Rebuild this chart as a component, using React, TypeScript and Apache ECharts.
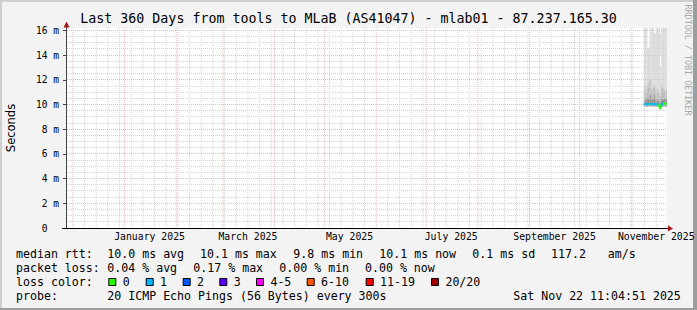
import React, { useEffect, useRef } from 'react';
import * as echarts from 'echarts';

// ---------- time frame ----------
const DAY = 24 * 3600 * 1000;
const END = Date.UTC(2025, 10, 22, 11, 4, 51);
const START = END - 360 * DAY;

const parseT = (s: string) => {
  const [d, t = '00:00'] = s.split(' ');
  const [y, m, dd] = d.split('-').map(Number);
  const [hh, mm] = t.split(':').map(Number);
  return Date.UTC(y, m - 1, dd, hh, mm);
};

// ---------- axis labels / ticks ----------
const MONTH_LABELS = ['January 2025', 'March 2025', 'May 2025', 'July 2025', 'September 2025', 'November 2025'];
const MONTH_LABEL_AT = ['2025-01-16 00:00', '2025-03-16 00:00', '2025-05-16 00:00', '2025-07-16 00:00', '2025-09-16 00:00', '2025-11-16 00:00'];
const MONTH_STARTS = ['2024-12-01', '2025-01-01', '2025-02-01', '2025-03-01', '2025-04-01', '2025-05-01', '2025-06-01', '2025-07-01', '2025-08-01', '2025-09-01', '2025-10-01', '2025-11-01'];
const FIRST_SUNDAY = '2024-12-01';
const Y_MAJOR = [0, 2, 4, 6, 8, 10, 12, 14, 16];
const Y_MAX = 16.2;

// ---------- data (ms), 12 h samples ----------
const SAMPLE_TIMES = [
  '2025-11-08 12:00', '2025-11-09 00:00', '2025-11-09 12:00', '2025-11-10 00:00', '2025-11-10 12:00',
  '2025-11-11 00:00', '2025-11-11 12:00', '2025-11-12 00:00', '2025-11-12 12:00', '2025-11-13 00:00',
  '2025-11-13 12:00', '2025-11-14 00:00', '2025-11-14 12:00', '2025-11-15 00:00', '2025-11-15 12:00',
  '2025-11-16 00:00', '2025-11-16 12:00', '2025-11-17 00:00', '2025-11-17 12:00', '2025-11-18 00:00',
  '2025-11-18 12:00', '2025-11-19 00:00', '2025-11-19 12:00', '2025-11-20 00:00', '2025-11-20 12:00',
  '2025-11-21 00:00', '2025-11-21 12:00', '2025-11-22 00:00', '2025-11-22 11:04',
];
const PING_MIN = [9.85, 9.84, 9.85, 9.83, 9.84, 9.86, 9.85, 9.84, 9.83, 9.85, 9.84, 9.83, 9.85, 9.84, 9.82, 9.83, 9.84, 9.8, 9.7, 9.55, 9.75, 9.82, 9.84, 9.83, 9.85, 9.84, 9.82, 9.83];
const PING_MEDIAN = [10.03, 10.02, 10.04, 10.03, 10.02, 10.05, 10.03, 10.02, 10.04, 10.03, 10.02, 10.03, 10.04, 10.02, 10.01, 10.03, 10.02, 9.98, 9.88, 9.72, 9.92, 10.06, 10.05, 10.04, 10.08, 10.06, 10.07, 10.05];
const PING_P75 = [10.4, 10.5, 10.35, 10.6, 10.45, 10.5, 10.4, 10.7, 10.9, 10.5, 10.45, 10.4, 10.6, 10.8, 10.5, 10.4, 10.45, 10.3, 10.2, 10.1, 10.3, 10.6, 10.5, 10.4, 10.5, 10.45, 10.4, 10.5];
const PING_P90 = [11.2, 11.5, 11.0, 11.6, 11.3, 11.8, 11.4, 12.2, 12.0, 11.3, 11.1, 11.4, 11.6, 11.5, 11.2, 11.0, 11.3, 11.0, 10.8, 10.6, 11.0, 11.7, 11.4, 11.2, 11.3, 11.2, 11.0, 11.3];
const PING_UPPER = [16.6, 16.6, 16.6, 16.6, 14.6, 14.6, 14.6, 16.6, 16.6, 16.6, 16.6, 16.6, 15.8, 15.8, 15.8, 16.6, 16.6, 16.6, 16.6, 13.1, 13.1, 16.6, 16.6, 16.6, 16.6, 16.6, 16.6, 16.6];
const PING_GAP_TOP = [16.6, 16.6, 16.6, 16.6, 14.6, 14.6, 14.6, 16.6, 16.6, 16.6, 16.6, 16.6, 15.8, 15.8, 15.8, 16.6, 16.6, 16.6, 16.6, 14.0, 14.0, 16.6, 16.6, 16.6, 16.6, 16.6, 16.6, 16.6];
const PING_MAX = [16.6, 16.6, 16.6, 16.6, 14.6, 14.6, 14.6, 16.6, 16.6, 16.6, 16.6, 16.6, 15.8, 15.8, 15.8, 16.6, 16.6, 16.6, 16.6, 15.75, 15.75, 16.6, 16.6, 16.6, 16.6, 16.6, 16.6, 16.6];
// loss class index per sample (0 => "0", 1 => "1", ...)
const LOSS_CLASS = [1, 1, 1, 1, 1, 1, 0, 1, 1, 1, 1, 1, 1, 1, 1, 1, 1, 1, 0, 0, 0, 1, 1, 0, 0, 0, 0, 0];

const LOSS_LABELS = ['0', '1', '2', '3', '4-5', '6-10', '11-19', '20/20'];
const LOSS_COLORS = ['#26ff00', '#00b8ff', '#0059ff', '#5e00ff', '#ff00ff', '#ff5500', '#ff0000', '#a10000'];

// ---------- legend texts ----------
const TITLE = 'Last 360 Days from tools to MLaB (AS41047) - mlab01 - 87.237.165.30';
const RTT_STATS = ['median rtt:', '10.0 ms avg', '10.1 ms max', '9.8 ms min', '10.1 ms now', '0.1 ms sd', '117.2', 'am/s'];
const LOSS_STATS = ['packet loss:', '0.04 % avg', '0.17 % max', '0.00 % min', '0.00 % now'];
const PROBE_TEXTS = ['probe:', '20 ICMP Echo Pings (56 Bytes) every 300s', 'Sat Nov 22 11:04:51 2025'];

// ---------- layout / style ----------
const MONO = "'DejaVu Sans Mono', monospace";
const RTT_X = [16, 107.3, 200, 293.3, 379.3, 472.3, 551, 607.7];
const LOSS_X = [16, 107.3, 193.3, 279.3, 365];
const BOX_X = [108.3, 145.7, 182.7, 219.3, 256, 306.7, 365.7, 431];
const PROBE_X = [16, 107.3, 513.3];
const ROW_Y = [254, 268, 282, 295.7];
// band fills: min->median, median->p75, p75->p90, p90->upper, (gap), gapTop->max
const SMOKE_COLORS = ['#ababab', '#929292', '#bebebe', '#dcdcdc', null, '#dcdcdc'];
const GRID_COLORS = ['#d4d4d4', '#efb6b6'];

function buildOption() {
  const times = SAMPLE_TIMES.map(parseT);
  const labelTimes = MONTH_LABEL_AT.map(parseT);
  const monthStarts = MONTH_STARTS.map(parseT);
  const sundays: number[] = [];
  for (let t = parseT(FIRST_SUNDAY); t < END; t += 7 * DAY) {
    if (!monthStarts.includes(t)) sundays.push(t);
  }
  const yMinor: number[] = [];
  for (let v = 0.5; v <= 16; v += 0.5) if (v % 2 !== 0) yMinor.push(v);
  const yMajorLines = Y_MAJOR.filter((v) => v > 0);

  const levels = [PING_MIN, PING_MEDIAN, PING_P75, PING_P90, PING_UPPER, PING_GAP_TOP, PING_MAX];
  const smokeData: number[][] = [];
  for (let i = 0; i < times.length - 1; i++) {
    for (let b = 0; b < SMOKE_COLORS.length; b++) {
      if (!SMOKE_COLORS[b]) continue;
      const lo = levels[b][i];
      const hi = levels[b + 1][i];
      if (hi > lo) smokeData.push([times[i], times[i + 1], lo, hi, b]);
    }
  }

  const smokeSeries = {
    type: 'custom',
    z: 2,
    silent: true,
    clip: true,
    encode: { x: [0, 1], y: [2, 3] },
    data: smokeData,
    renderItem: (params: any, api: any) => {
      const p0 = api.coord([api.value(0), api.value(3)]);
      const p1 = api.coord([api.value(1), api.value(2)]);
      return {
        type: 'rect',
        shape: { x: p0[0], y: p0[1], width: p1[0] - p0[0] + 0.35, height: p1[1] - p0[1] },
        style: { fill: SMOKE_COLORS[api.value(4)] as string },
      };
    },
  };

  // grid lines: [value, orientation (0 vertical / 1 horizontal), kind (0 minor / 1 major)]
  const gridData: number[][] = [
    ...sundays.map((t) => [t, 0, 0]),
    ...yMinor.map((v) => [v, 1, 0]),
    ...monthStarts.map((t) => [t, 0, 1]),
    ...yMajorLines.map((v) => [v, 1, 1]),
  ];
  const gridSeries = {
    type: 'custom',
    z: 5,
    silent: true,
    clip: false,
    data: gridData,
    encode: { x: -1, y: -1 },
    renderItem: (params: any, api: any) => {
      const cs = params.coordSys;
      const v = api.value(0);
      const stroke = GRID_COLORS[api.value(2)];
      if (api.value(1) === 0) {
        const x = api.coord([v, 0])[0];
        return { type: 'line', shape: { x1: x, y1: cs.y, x2: x, y2: cs.y + cs.height }, style: { stroke, lineWidth: 1, lineDash: [1, 1] } };
      }
      const y = Math.floor(api.coord([START, v])[1]) + 0.5;
      return { type: 'line', shape: { x1: cs.x, y1: y, x2: cs.x + cs.width, y2: y }, style: { stroke, lineWidth: 1, lineDash: [1, 1] } };
    },
  };

  const medianData = times.slice(0, -1).map((t, i) => [
    t,
    times[i + 1],
    PING_MEDIAN[i],
    LOSS_CLASS[i],
    i > 0 ? PING_MEDIAN[i - 1] : PING_MEDIAN[i],
  ]);

  const medianSeries = {
    type: 'custom',
    z: 10,
    silent: true,
    encode: { x: [0, 1], y: 2 },
    data: medianData,
    renderItem: (params: any, api: any) => {
      const t0 = api.value(0);
      const t1 = api.value(1);
      const m = api.value(2);
      const color = LOSS_COLORS[api.value(3)];
      const prev = api.value(4);
      const p0 = api.coord([t0, m]);
      const p1 = api.coord([t1, m]);
      const pp = api.coord([t0, prev]);
      const children: any[] = [
        { type: 'rect', shape: { x: p0[0], y: p0[1] - 1, width: p1[0] - p0[0] + 0.2, height: 2 }, style: { fill: color } },
      ];
      if (Math.abs(pp[1] - p0[1]) > 1) {
        const y0 = Math.min(pp[1], p0[1]) - 1;
        children.push({ type: 'rect', shape: { x: p0[0] - 0.5, y: y0, width: 1.5, height: Math.abs(pp[1] - p0[1]) + 2 }, style: { fill: color } });
      }
      return { type: 'group', children };
    },
  };

  const graphic: any[] = [];
  // frame shading
  graphic.push({ type: 'rect', shape: { x: 0, y: 0, width: 697, height: 2 }, style: { fill: '#cfcfcf' }, silent: true });
  graphic.push({ type: 'rect', shape: { x: 0, y: 0, width: 2, height: 310 }, style: { fill: '#cfcfcf' }, silent: true });
  graphic.push({ type: 'rect', shape: { x: 693, y: 0, width: 4, height: 310 }, style: { fill: '#9e9e9e' }, silent: true });
  graphic.push({ type: 'rect', shape: { x: 0, y: 308, width: 697, height: 2 }, style: { fill: '#9e9e9e' }, silent: true });
  // axis lines and arrows
  graphic.push({ type: 'line', shape: { x1: 62, y1: 228.5, x2: 668, y2: 228.5 }, style: { stroke: '#000', lineWidth: 1 }, silent: true, z: 20 });
  graphic.push({ type: 'polygon', shape: { points: [[668, 225.5], [673, 228.5], [668, 231.5]] }, style: { fill: '#a31515' }, silent: true, z: 20 });
  graphic.push({ type: 'line', shape: { x1: 66.5, y1: 228, x2: 66.5, y2: 24 }, style: { stroke: '#444', lineWidth: 1 }, silent: true, z: 20 });
  graphic.push({ type: 'polygon', shape: { points: [[63.5, 27.5], [66.5, 21.5], [69.5, 27.5]] }, style: { fill: '#a31515' }, silent: true, z: 20 });
  // title
  graphic.push({ type: 'text', x: 348.5, y: 18.4, silent: true, style: { text: TITLE, font: `13.3px ${MONO}`, fill: '#000', align: 'center', verticalAlign: 'middle' } });
  // y axis name
  graphic.push({ type: 'text', x: 10.5, y: 128, rotation: Math.PI / 2, silent: true, style: { text: 'Seconds', font: "11.5px 'DejaVu Sans', sans-serif", fill: '#000', align: 'center', verticalAlign: 'middle' } });
  // watermark
  graphic.push({ type: 'text', x: 687.5, y: 60, rotation: -Math.PI / 2, silent: true, style: { text: 'RRDTOOL / TOBI OETIKER', font: `8.4px ${MONO}`, fill: '#a8a8a8', align: 'center', verticalAlign: 'middle' } });
  const legendFont = `11.6px ${MONO}`;
  const addText = (text: string, x: number, y: number) =>
    graphic.push({ type: 'text', x, y, silent: true, style: { text, font: legendFont, fill: '#000', align: 'left', verticalAlign: 'middle' } });
  RTT_STATS.forEach((s, i) => addText(s, RTT_X[i], ROW_Y[0]));
  LOSS_STATS.forEach((s, i) => addText(s, LOSS_X[i], ROW_Y[1]));
  addText('loss color:', 16, ROW_Y[2]);
  LOSS_LABELS.forEach((s, i) => {
    graphic.push({ type: 'rect', shape: { x: BOX_X[i] + 0.5, y: 278.5, width: 7, height: 7 }, style: { fill: LOSS_COLORS[i], stroke: '#000', lineWidth: 1 }, silent: true });
    addText(s, BOX_X[i] + 14.4, ROW_Y[2]);
  });
  PROBE_TEXTS.forEach((s, i) => addText(s, PROBE_X[i], ROW_Y[3]));

  return {
    animation: false,
    backgroundColor: '#f3f3f3',
    grid: { left: 67, top: 28, width: 600, height: 200, show: true, backgroundColor: '#ffffff', borderWidth: 0, containLabel: false, outerBoundsMode: 'none' },
    xAxis: {
      type: 'value',
      min: START,
      max: END,
      axisLine: { show: false },
      axisTick: { show: false },
      splitLine: { show: false },
      axisLabel: {
        customValues: labelTimes,
        hideOverlap: false,
        showMinLabel: true,
        showMaxLabel: true,
        formatter: (v: number) => {
          const i = labelTimes.indexOf(v);
          return i >= 0 ? MONTH_LABELS[i] : '';
        },
        fontFamily: MONO,
        fontSize: 9.8,
        color: '#000',
        margin: 3,
      },
    },
    yAxis: {
      type: 'value',
      min: 0,
      max: Y_MAX,
      axisLine: { show: false },
      axisTick: { show: true, customValues: Y_MAJOR, length: 4, lineStyle: { color: '#444', width: 1 } },
      splitLine: { show: false },
      axisLabel: {
        customValues: Y_MAJOR,
        formatter: (v: number) => (v === 0 ? '{z|0}' : `${v} m`),
        fontFamily: MONO,
        fontSize: 9.6,
        color: '#000',
        margin: 8,
        rich: { z: { fontFamily: MONO, fontSize: 9.6, color: '#000', padding: [0, 11.5, 0, 0] } },
      },
    },
    series: [smokeSeries, gridSeries, medianSeries],
    graphic,
  };
}

export default function App() {
  const ref = useRef<HTMLDivElement>(null);
  useEffect(() => {
    const chart = echarts.init(ref.current!, null, { renderer: 'svg' });
    chart.setOption(buildOption() as any);
    return () => chart.dispose();
  }, []);
  return <div ref={ref} style={{ position: 'fixed', left: 0, top: 0, width: 697, height: 310 }} />;
}
